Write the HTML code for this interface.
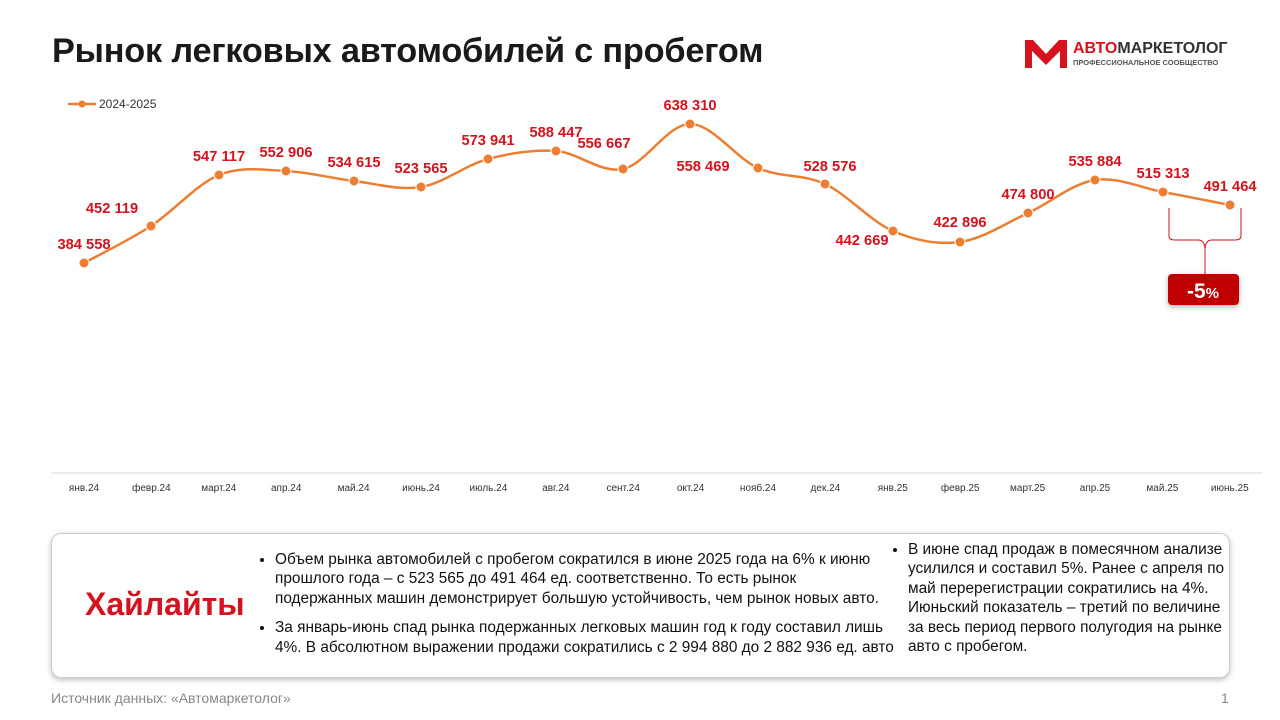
<!DOCTYPE html>
<html><head><meta charset="utf-8"><style>
body{margin:0;width:1280px;height:720px;background:#fff;font-family:"Liberation Sans",sans-serif;position:relative;overflow:hidden}
.t{position:absolute;left:52px;top:32px;font-size:34.3px;font-weight:bold;color:#1a1a1a;letter-spacing:-0.2px}
.box{position:absolute;left:51px;top:533px;width:1177px;height:143px;border:1px solid #ccc;border-radius:10px;box-shadow:0 2px 6px rgba(0,0,0,.25);background:#fff}
.hl{position:absolute;left:85px;top:586px;font-size:32px;font-weight:bold;color:#d5121d}
.txt{position:absolute;font-size:15.4px;line-height:19.4px;color:#111}
.txt ul{margin:0;padding-left:20px}
.txt li{margin-bottom:10px}
.src{position:absolute;left:51px;top:690px;font-size:14px;color:#888}
</style></head><body>
<div class="t">Рынок легковых автомобилей с пробегом</div>
<svg style="position:absolute;left:1025px;top:40px" width="42" height="28" viewBox="0 0 42 28">
<path d="M0 0h8l13 14 13-14h8v28h-7V11L21 25 7 11v17H0z" fill="#d5121d"/></svg>
<div style="position:absolute;left:1073px;top:40px;font-size:16px;font-weight:bold;color:#333"><span style="color:#d5121d">АВТО</span>МАРКЕТОЛОГ</div>
<div style="position:absolute;left:1073px;top:58px;font-size:7.5px;font-weight:bold;color:#555">ПРОФЕССИОНАЛЬНОЕ СООБЩЕСТВО</div>
<svg id="c" width="1280" height="520" style="position:absolute;left:0;top:0" font-family="Liberation Sans, sans-serif"></svg>
<div class="box"></div>
<div class="hl">Хайлайты</div>
<div class="txt" style="left:255px;top:550px;width:640px"><ul><li>Объем рынка автомобилей с пробегом сократился в июне 2025 года на 6% к июню прошлого года – с 523 565 до 491 464 ед. соответственно. То есть рынок подержанных машин демонстрирует большую устойчивость, чем рынок новых авто.</li><li>За январь-июнь спад рынка подержанных  легковых машин год к году составил лишь 4%. В абсолютном выражении продажи сократились с 2 994 880 до 2 882 936 ед. авто</li></ul></div>
<div class="txt" style="left:888px;top:540px;width:345px"><ul><li>В июне спад продаж в помесячном анализе усилился и составил 5%. Ранее с апреля по май перерегистрации сократились на 4%. Июньский показатель – третий по величине за весь период первого полугодия на рынке авто с пробегом.</li></ul></div>
<div class="src">Источник данных: «Автомаркетолог»</div>
<div style="position:absolute;left:1221px;top:690px;font-size:14px;color:#888">1</div>
<script>
var P=[[84,263],[151,226],[219,175],[286,171],[354,181],[421,187],[488,159],[556,151],[623,169],[690,124],[758,168],[825,184],[893,231],[960,242],[1028,213],[1095,180],[1163,192],[1230,205]];
var L=[["384 558",84,244],["452 119",112,208],["547 117",219,156],["552 906",286,152],["534 615",354,162],["523 565",421,168],["573 941",488,140],["588 447",556,132],["556 667",604,143],["638 310",690,105],["558 469",703,166],["528 576",830,166],["442 669",862,240],["422 896",960,222],["474 800",1028,194],["535 884",1095,161],["515 313",1163,173],["491 464",1230,186]];
var M=["янв.24","февр.24","март.24","апр.24","май.24","июнь.24","июль.24","авг.24","сент.24","окт.24","нояб.24","дек.24","янв.25","февр.25","март.25","апр.25","май.25","июнь.25"];
var d="M"+P[0];
for(var i=0;i<P.length-1;i++){var p0=P[i-1]||P[i],p1=P[i],p2=P[i+1],p3=P[i+2]||p2,k=6;
d+=" C"+(p1[0]+(p2[0]-p0[0])/k)+","+(p1[1]+(p2[1]-p0[1])/k)+" "+(p2[0]-(p3[0]-p1[0])/k)+","+(p2[1]-(p3[1]-p1[1])/k)+" "+p2[0]+","+p2[1];}
var s='<line x1="51" y1="473" x2="1262" y2="473" stroke="#d9d9d9"/>';
s+='<line x1="68" y1="104" x2="96" y2="104" stroke="#ed7d31" stroke-width="2.5"/><circle cx="82" cy="104" r="3.5" fill="#ed7d31"/><text x="99" y="108" font-size="12" fill="#333">2024-2025</text>';
s+='<path d="'+d+'" fill="none" stroke="#ed7d31" stroke-width="2.5"/>';
P.forEach(function(p,i){s+='<circle cx="'+p[0]+'" cy="'+p[1]+'" r="5" fill="#ed7d31" stroke="#fff" stroke-width="1"/>';
s+='<text x="'+(84+i*67.4)+'" y="491" font-size="10" fill="#333" text-anchor="middle">'+M[i]+'</text>';});
L.forEach(function(l){s+='<text x="'+l[1]+'" y="'+(l[2]+5)+'" font-size="14.7" font-weight="bold" fill="#d5121d" text-anchor="middle">'+l[0]+'</text>';});
s+='<path d="M1169 208 V236 Q1169 240 1175 240 H1198 Q1205 240 1205 250 V274 M1241 208 V236 Q1241 240 1235 240 H1212 Q1205 240 1205 250" fill="none" stroke="#d5121d" stroke-width="1"/>';
s+='<rect x="1168" y="274" width="71" height="31" rx="4" fill="#c00000" style="filter:drop-shadow(0 2px 3px rgba(0,0,0,.3))"/><text x="1203" y="298" font-size="21" font-weight="bold" fill="#fff" text-anchor="middle">-5<tspan font-size="15">%</tspan></text>';
document.getElementById("c").innerHTML=s;
</script>
</body></html>
